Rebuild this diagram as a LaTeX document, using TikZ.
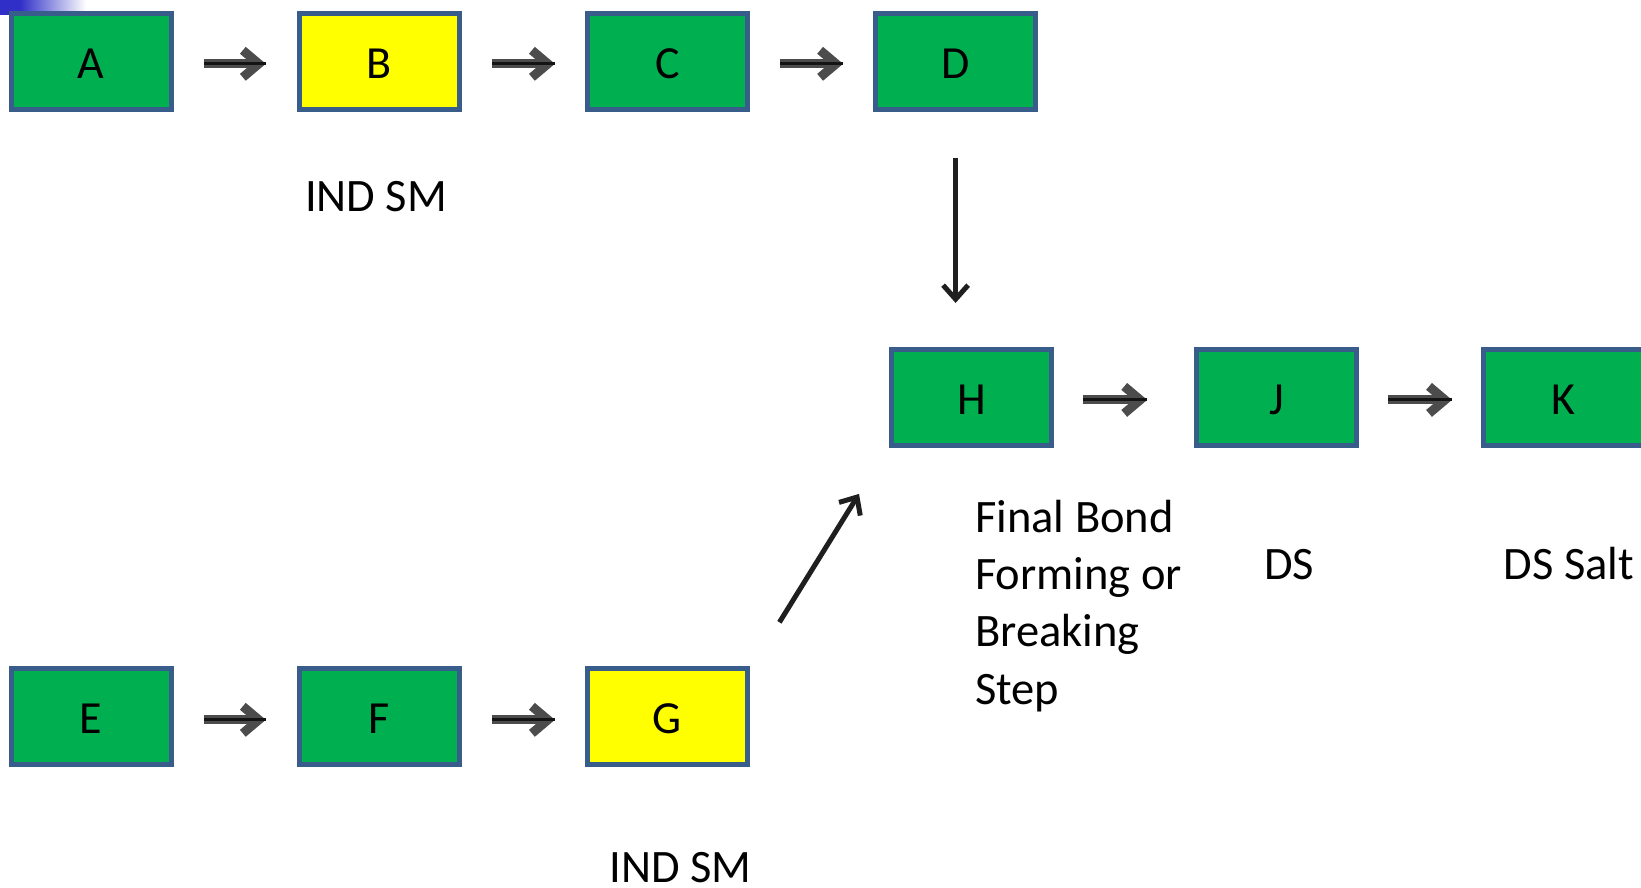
\documentclass[tikz,border=0pt]{standalone}
\usepackage{fontspec}
\setmainfont{Carlito}
\usetikzlibrary{arrows.meta,calc}
\definecolor{boxgreen}{HTML}{00B050}
\definecolor{boxyellow}{HTML}{FFFF00}
\definecolor{boxedge}{HTML}{385D8A}
\definecolor{cornerblue}{HTML}{3030C8}
\tikzset{
  stepbox/.style={draw=boxedge, line width=5pt, fill=boxgreen,
    minimum width=160pt, minimum height=96pt, inner sep=0pt,
    text height=34pt, text depth=0pt, font=\fontsize{46}{55}\selectfont},
  startbox/.style={stepbox, fill=boxyellow},
  lbl/.style={inner sep=0pt, font=\fontsize{46.5}{57.3}\selectfont},
  flow/.style={line width=9pt, black!70,
    -{Straight Barb[length=16pt,width=27pt]},
    postaction={draw, black!92, line width=3pt, -}},
  thinflow/.style={line width=5pt, black!88,
    -{Straight Barb[length=14pt,width=25pt]}}
}
\begin{document}
\begin{tikzpicture}[x=1pt, y=-1pt]
  \useasboundingbox (0,0) rectangle (1641,887);
  \clip (0,0) rectangle (1641,887);
  \fill[white] (0,0) rectangle (1641,887);
  % corner accent
  \fill[cornerblue] (0,0) rectangle (20,15);
  \shade[left color=cornerblue, right color=white] (20,0) rectangle (86,15);

  % upper route
  \node[stepbox]  (A) at (91,61.3)    {A};
  \node[startbox] (B) at (379.3,61.3) {B};
  \node[stepbox]  (C) at (667.4,61.3) {C};
  \node[stepbox]  (D) at (955.6,61.3) {D};
  % lower route
  \node[stepbox]  (E) at (91,716.8)    {E};
  \node[stepbox]  (F) at (379.3,716.8) {F};
  \node[startbox] (G) at (667.4,716.8) {G};
  % final steps
  \node[stepbox] (H) at (971.5,397.4)  {H};
  \node[stepbox] (J) at (1276.7,397.4) {J};
  \node[stepbox] (K) at (1563.5,397.4) {K};

  % labels (a multi-line node sits on the baseline of its last line)
  \node[lbl, anchor=base] (indsmB) at (376,211.7) {IND SM};
  \node[lbl, anchor=base] (indsmG) at (680.5,882) {IND SM};
  \node[lbl, anchor=base west, align=left] (final) at (975,704)
    {Final Bond\\Forming or\\Breaking\\Step};
  \node[lbl, anchor=base west] (ds) at (1264,579.3) {DS};
  \node[lbl, anchor=base] (dssalt) at (1569,579.3) {DS Salt};

  % connectors (horizontal ones run a little below the box centres)
  \draw[flow, shorten <=30pt, shorten >=31pt] ([yshift=-2.5pt]A.east) -- ([yshift=-2.5pt]B.west);
  \draw[flow, shorten <=30pt, shorten >=30pt] ([yshift=-2.5pt]B.east) -- ([yshift=-2.5pt]C.west);
  \draw[flow, shorten <=30pt, shorten >=30pt] ([yshift=-2.5pt]C.east) -- ([yshift=-2.5pt]D.west);
  \draw[flow, shorten <=30pt, shorten >=31pt] ([yshift=-3pt]E.east) -- ([yshift=-3pt]F.west);
  \draw[flow, shorten <=30pt, shorten >=30pt] ([yshift=-3pt]F.east) -- ([yshift=-3pt]G.west);
  \draw[flow, shorten <=29pt, shorten >=47pt] ([yshift=-2.5pt]H.east) -- ([yshift=-2.5pt]J.west);
  \draw[flow, shorten <=29pt, shorten >=29pt] ([yshift=-2.5pt]J.east) -- ([yshift=-2.5pt]K.west);
  \draw[thinflow, shorten <=46pt, shorten >=44pt] (D.south) -- (D.south |- H.north);
  \coordinate (gtail) at ($(G.north east)+(29.5,-44)$);
  \coordinate (htip) at ($(H.south west)+(-30,46)$);
  \draw[thinflow] (gtail) -- (htip);
\end{tikzpicture}
\end{document}
